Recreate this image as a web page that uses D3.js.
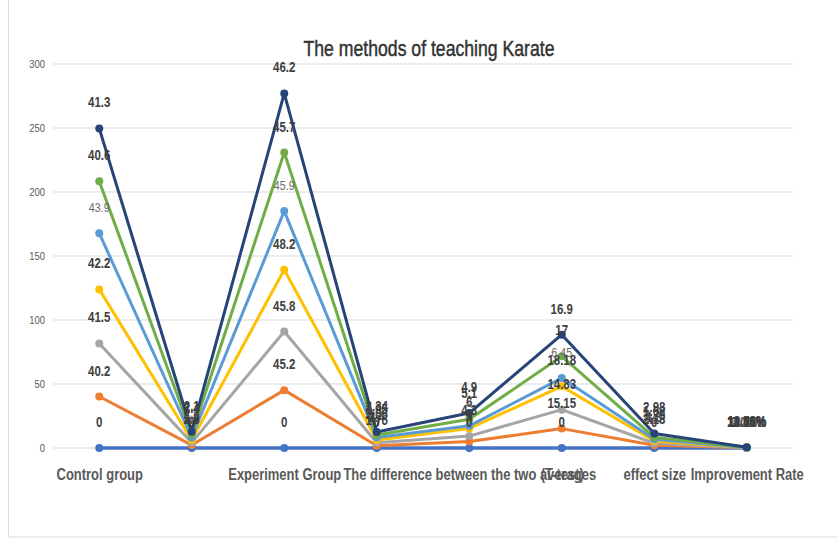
<!DOCTYPE html>
<html>
<head>
<meta charset="utf-8">
<script src="https://cdn.jsdelivr.net/npm/d3@7"></script>
<style>
  html, body { margin: 0; padding: 0; background: #fff; }
  svg { display: block; }
  text { font-family: "Liberation Sans", Arial, sans-serif; }
</style>
</head>
<body>
<svg id="chart" width="837" height="540"></svg>
<script>
// Categories along the x axis (some slots carry no label)
const categories = [
  "Control group", "", "Experiment Group", "",
  "The difference between the two averages", "(T-test)", "effect size", "Improvement Rate"
];

// Series values, stacked bottom to top
const seriesBase   = [0, 0, 0, 0, 0, 0, 0, 0];
const seriesOrange = [40.2, 2.3, 45.2, 1.75, 5.0, 15.15, 2.13, 0.1244];
const seriesGray   = [41.5, 1.9, 45.8, 2.4, 4.3, 14.83, 1.6, 0.1036];
const seriesYellow = [42.2, 2.1, 48.2, 2.06, 6.0, 18.18, 1.78, 0.1422];
const seriesLight  = [43.9, 1.9, 45.9, 2.05, 2.0, 6.45, 1.26, 0.0455];
const seriesGreen  = [40.6, 2.4, 45.7, 1.95, 5.1, 17.0, 1.62, 0.1256];
const seriesNavy   = [41.3, 2.1, 46.2, 2.34, 4.9, 16.9, 2.98, 0.1186];

const yTicks = [0, 50, 100, 150, 200, 250, 300];

const series = [
  { values: seriesBase,   color: "#4472C4", lw: 3.5 },
  { values: seriesOrange, color: "#ED7D31", lw: 3 },
  { values: seriesGray,   color: "#A5A5A5", lw: 3 },
  { values: seriesYellow, color: "#FFC000", lw: 3 },
  { values: seriesLight,  color: "#5B9BD5", lw: 3, plainLabel: true },
  { values: seriesGreen,  color: "#70AD47", lw: 3 },
  { values: seriesNavy,   color: "#264478", lw: 3 }
];

// squeeze text horizontally to a narrow face
function narrow(sel, k = 0.82) {
  sel.each(function () {
    const w = this.getComputedTextLength();
    if (w > 0) {
      this.setAttribute("textLength", (w * k).toFixed(2));
      this.setAttribute("lengthAdjust", "spacingAndGlyphs");
    }
  });
}

const svg = d3.select("#chart");

// chart frame
svg.append("rect")
  .attr("x", 8.5).attr("y", -2).attr("width", 840).attr("height", 539)
  .attr("fill", "none").attr("stroke", "#d9d9d9");

const x = d3.scalePoint().domain(d3.range(categories.length)).range([53, 793]).padding(0.5);
const y = d3.scaleLinear().domain([0, 300]).range([448, 64]);

// gridlines
svg.append("g").selectAll("line").data(yTicks).join("line")
  .attr("x1", 53).attr("x2", 793)
  .attr("y1", d => y(d)).attr("y2", d => y(d))
  .attr("stroke", "#d9d9d9").attr("stroke-width", 1.2);

// y axis labels
const yAxis = d3.axisLeft(y).tickValues(yTicks).tickSize(0).tickPadding(8);
const ya = svg.append("g").attr("transform", "translate(53,0)").call(yAxis);
ya.select(".domain").remove();
ya.selectAll("text")
  .attr("fill", "#595959")
  .style("font-size", "11.5px")
  .style("font-family", "'Liberation Sans', Arial, sans-serif")
  .call(narrow);

// x axis labels
const xAxis = d3.axisBottom(x).tickFormat(i => categories[i]).tickSize(0).tickPadding(21);
const xa = svg.append("g").attr("transform", "translate(0,448)").call(xAxis);
xa.select(".domain").remove();
xa.selectAll("text")
  .attr("fill", "#595959")
  .style("font-size", "15.8px")
  .style("font-weight", "bold")
  .style("font-family", "'Liberation Sans', Arial, sans-serif")
  .call(narrow);

// stacked cumulative totals
const cum = categories.map(() => 0);
series.forEach(s => {
  s.tops = s.values.map((v, i) => (cum[i] += v));
});

const line = d3.line().x((d, i) => x(i)).y(d => y(d));

const gSeries = svg.append("g");
series.forEach(s => {
  const g = gSeries.append("g");
  g.append("path")
    .datum(s.tops)
    .attr("fill", "none")
    .attr("stroke", s.color)
    .attr("stroke-width", s.lw)
    .attr("stroke-linejoin", "round")
    .attr("d", line);
  g.selectAll("circle").data(s.tops).join("circle")
    .attr("cx", (d, i) => x(i)).attr("cy", d => y(d))
    .attr("r", 4).attr("fill", s.color);
});

// value labels
const fmt = (v, i) => i === categories.length - 1 ? (v * 100).toFixed(2) + "%" : String(v);
const gLabels = svg.append("g");
series.forEach(s => {
  gLabels.append("g").selectAll("text").data(s.values).join("text")
    .attr("x", (d, i) => x(i))
    .attr("y", (d, i) => y(s.tops[i]) - 21)
    .attr("text-anchor", "middle")
    .attr("fill", s.plainLabel ? "#6b6b6b" : "#404040")
    .style("font-size", s.plainLabel ? "13px" : "14px")
    .style("font-weight", s.plainLabel ? "normal" : "bold")
    .text((d, i) => fmt(d, i))
    .call(narrow);
});

// title
svg.append("text")
  .attr("x", 429).attr("y", 56)
  .attr("text-anchor", "middle")
  .attr("fill", "#333333")
  .attr("stroke", "#333333")
  .attr("stroke-width", 0.45)
  .style("font-size", "21.5px")
  .text("The methods of teaching Karate")
  .call(narrow);
</script>
</body>
</html>
